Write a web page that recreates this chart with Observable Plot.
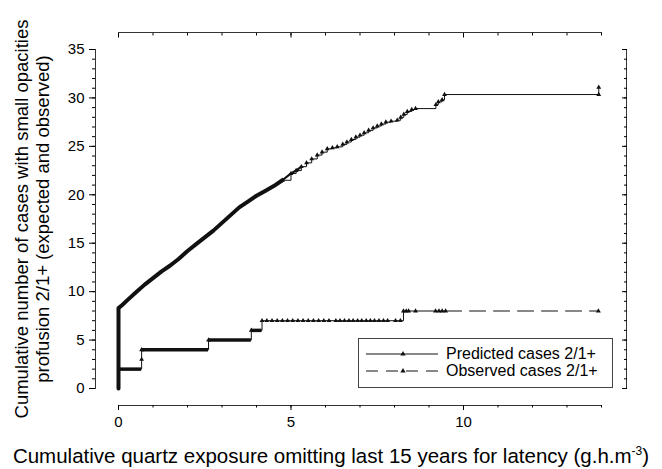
<!DOCTYPE html>
<html><head><meta charset="utf-8">
<script src="https://cdn.jsdelivr.net/npm/d3@7"></script>
<script src="https://cdn.jsdelivr.net/npm/@observablehq/plot@0.6"></script>
<style>
body{margin:0;background:#fff;font-family:"Liberation Sans",Arial,sans-serif;color:#000;}
#wrap{position:relative;width:662px;height:469px;overflow:hidden;}
#legend{position:absolute;left:358px;top:338px;width:253px;height:48px;border:1px solid #444;background:#fff;font-size:16px;}
#legend .row{position:absolute;left:0;height:18px;width:100%;}
#legend svg{position:absolute;left:7px;top:3px;}
#legend span{position:absolute;left:87px;top:0;line-height:18px;white-space:nowrap;}
#xtitle{position:absolute;left:0;width:662px;top:440px;text-align:center;font-size:20.5px;line-height:22px;white-space:nowrap;}
#xtitle sup{font-size:12px;}
</style></head><body><div id="wrap"></div>
<script>
// Predicted cumulative cases (x = cumulative quartz exposure, y = cases)
const predX = [0, 0, 0.1, 0.25, 0.5, 0.75, 1.0, 1.25, 1.5, 1.75, 2.0, 2.25, 2.5, 2.75, 3.0, 3.25, 3.5, 3.75, 4.0, 4.25, 4.5, 4.75,
  5.0, 5.15, 5.3, 5.45, 5.6, 5.76, 5.9, 6.05, 6.2, 6.34, 6.5, 6.62, 6.75, 6.88, 7.0, 7.12, 7.25, 7.38, 7.5, 7.62, 7.75, 7.9, 8.08,
  8.18, 8.27, 8.37, 8.5, 8.61, 9.2, 9.27, 9.38, 9.45, 13.92, 13.92];
const predY = [0, 8.3, 8.6, 9.1, 9.9, 10.7, 11.4, 12.1, 12.7, 13.4, 14.2, 14.9, 15.6, 16.3, 17.1, 17.9, 18.7, 19.3, 19.9, 20.4, 20.9, 21.5,
  22.2, 22.5, 22.9, 23.3, 23.7, 24.1, 24.4, 24.75, 24.85, 24.95, 25.2, 25.45, 25.7, 25.95, 26.15, 26.4, 26.65, 26.9, 27.1, 27.3, 27.5, 27.6, 27.7,
  28.0, 28.3, 28.6, 28.8, 28.9, 29.3, 29.6, 29.8, 30.35, 30.35, 31.1];
// Observed cumulative cases
const obsX = [0, 0, 0.67, 0.67, 2.61, 3.85, 4.16, 4.3, 4.45, 4.6, 4.75, 4.9, 5.05, 5.2, 5.35, 5.5, 5.65, 5.8, 5.95, 6.1, 6.3, 6.42, 6.55,
  6.68, 6.8, 6.93, 7.05, 7.18, 7.3, 7.42, 7.55, 7.68, 7.8, 8.03, 8.17, 8.26, 8.34, 8.41, 8.61, 9.19, 9.29, 9.38, 9.48, 13.91];
const obsY = [0, 2, 3, 4, 5, 6, 7, 7, 7, 7, 7, 7, 7, 7, 7, 7, 7, 7, 7, 7, 7, 7, 7,
  7, 7, 7, 7, 7, 7, 7, 7, 7, 7, 7, 7, 8, 8, 8, 8, 8, 8, 8, 8, 8];
const seriesNames = ["Predicted cases 2/1+", "Observed cases 2/1+"];
const xTicks = [0, 5, 10];
const xMinorTicks = [0,1,2,3,4,5,6,7,8,9,10,11,12,13,14];
const yTicks = [0, 5, 10, 15, 20, 25, 30, 35];
const yMinorTicks = d3.range(0, 36);
const xDomain = [0, 14];
const yDomain = [0, 35];
const yTitle1 = "Cumulative number of cases with small opacities";
const yTitle2 = "profusion 2/1+ (expected and observed)";
const xTitleMain = "Cumulative quartz exposure omitting last 15 years for latency (g.h.m";
const xTitleSup = "-3";

const pred = predX.map((x, i) => ({x, y: predY[i]}));
const obs = obsX.map((x, i) => ({x, y: obsY[i]}));
const predThickEnd = 4.75, predMidEnd = 5.3, obsThickEnd = 4.16, obsDashStart = 9.48;
const predSmooth = pred.filter(d => d.x <= predThickEnd);
const predMid = pred.filter(d => d.x >= predThickEnd && d.x <= predMidEnd);
const predStep = pred.filter(d => d.x >= predThickEnd);
const predMarkers = pred.filter(d => d.x >= predThickEnd);
const obsSeg = obs.slice(0, -1).map((d, i) => ({x1: d.x, x2: obs[i + 1].x, y: d.y}))
  .filter(s => s.x2 > s.x1 && s.x2 <= obsThickEnd);
const obsSolid = obs.filter(d => d.x <= obsDashStart);
const obsDashed = obs.filter(d => d.x >= obsDashStart);
const blank = () => "";
const ink = "#111";

const chart = Plot.plot({
  width: 662, height: 469,
  marginLeft: 95, marginRight: 36, marginTop: 32, marginBottom: 64,
  style: {fontFamily: "Liberation Sans, Arial, sans-serif", fontSize: "15px", color: "#000", background: "#fff"},
  x: {domain: xDomain, insetLeft: 23, insetRight: 25, label: null},
  y: {domain: yDomain, insetTop: 17, insetBottom: 17, label: null},
  marks: [
    Plot.frame({anchor: "left", insetTop: 17, insetBottom: 17, stroke: "#333"}),
    Plot.frame({anchor: "right", insetTop: 17, insetBottom: 17, stroke: "#333"}),
    Plot.frame({anchor: "bottom", insetLeft: 23, insetRight: 25, stroke: "#333"}),
    Plot.frame({anchor: "top", insetLeft: 23, insetRight: 25, stroke: "#333"}),
    Plot.axisY(yMinorTicks, {anchor: "left", tickSize: 3, tickFormat: blank, label: null}),
    Plot.axisY(yTicks, {anchor: "left", tickSize: 6, tickPadding: 5, label: null, fontSize: 15}),
    Plot.axisY(yMinorTicks, {anchor: "right", tickSize: 3, dx: -3, tickFormat: blank, label: null}),
    Plot.axisY(yTicks, {anchor: "right", tickSize: 5, dx: -5, tickFormat: blank, label: null}),
    Plot.axisX(xMinorTicks, {anchor: "bottom", tickSize: 2.5, tickFormat: blank, label: null}),
    Plot.axisX(xTicks, {anchor: "bottom", tickSize: 5, tickPadding: 6, label: null, fontSize: 15}),
    Plot.axisX(xMinorTicks, {anchor: "top", tickSize: 2.5, dy: 2.5, tickFormat: blank, label: null}),
    Plot.axisX(xTicks, {anchor: "top", tickSize: 4.5, dy: 4.5, tickFormat: blank, label: null}),
    // predicted
    Plot.line(predSmooth, {x: "x", y: "y", stroke: ink, strokeWidth: 4, strokeLinejoin: "round"}),
    Plot.line(predMid, {x: "x", y: "y", stroke: ink, strokeWidth: 2.2}),
    Plot.line(predStep, {x: "x", y: "y", curve: "step-after", stroke: ink, strokeWidth: 1}),
    Plot.dot(predMarkers, {x: "x", y: "y", symbol: "triangle", r: 1.8, fill: ink}),
    // observed
    Plot.ruleY(obsSeg, {x1: "x1", x2: "x2", y: "y", stroke: ink, strokeWidth: 3.5}),
    Plot.line(obsSolid, {x: "x", y: "y", curve: "step-after", stroke: ink, strokeWidth: 1}),
    Plot.line(obsDashed, {x: "x", y: "y", curve: "step-after", stroke: ink, strokeWidth: 1, strokeDasharray: "16,8"}),
    Plot.dot(obs.slice(2), {x: "x", y: "y", symbol: "triangle", r: 1.8, fill: ink}),
    // y title
    Plot.text([yTitle1], {frameAnchor: "left", textAnchor: "middle", rotate: -90, dx: -73, fontSize: 18.5, fill: "#000"}),
    Plot.text([yTitle2], {frameAnchor: "left", textAnchor: "middle", rotate: -90, dx: -52, fontSize: 18.5, fill: "#000"})
  ]
});
const wrap = document.getElementById("wrap");
wrap.appendChild(chart);

// x title (with superscript)
const xt = document.createElement("div");
xt.id = "xtitle";
xt.append(xTitleMain);
const sup = document.createElement("sup"); sup.textContent = xTitleSup;
xt.append(sup, ")");
wrap.appendChild(xt);

// legend
const lg = document.createElement("div");
lg.id = "legend";
seriesNames.forEach((name, i) => {
  const row = document.createElement("div");
  row.className = "row";
  row.style.top = (i === 0 ? 6 : 23) + "px";
  const s = d3.create("svg").attr("width", 74).attr("height", 12);
  s.append("line").attr("x1", 0).attr("x2", 72).attr("y1", 6).attr("y2", 6)
    .attr("stroke", ink).attr("stroke-width", 1)
    .attr("stroke-dasharray", i === 0 ? null : "12,8");
  s.append("path").attr("d", d3.symbol(d3.symbolTriangle, 12)()).attr("transform", "translate(37,6)").attr("fill", ink);
  row.appendChild(s.node());
  const t = document.createElement("span"); t.textContent = name;
  row.appendChild(t);
  lg.appendChild(row);
});
wrap.appendChild(lg);
</script></body></html>
